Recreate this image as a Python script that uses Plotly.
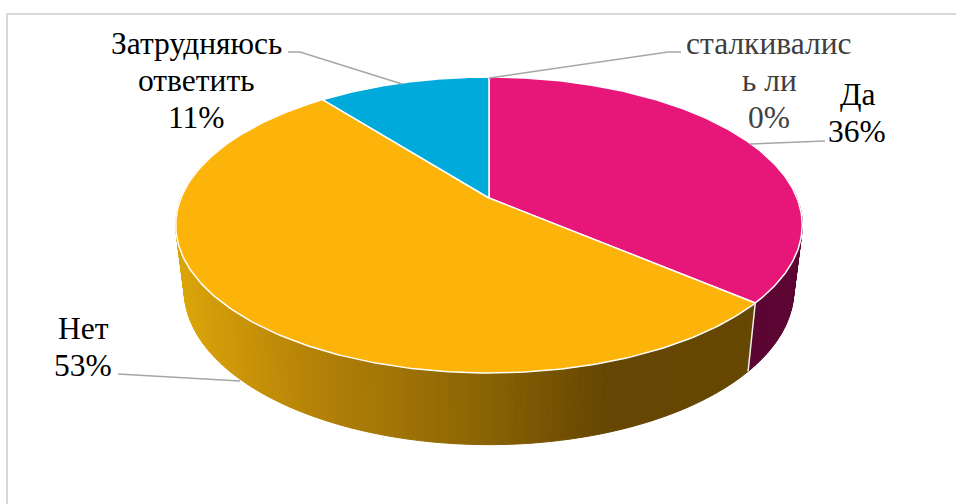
import numpy as np
import plotly.graph_objects as go

# --- data ---
categories = ["Да", "Нет", "Затрудняюсь ответить", "сталкивались ли"]
values = [36.2, 53.2, 10.6, 0]
top_colors = ["#E7177A", "#FDB40A", "#00ABDB", "#7F7F7F"]

# --- projection of the tilted disc onto page pixels ---
CX, CY = 489.0, 198.0
S, A, C = 308.0, 106.95, -0.1824
WALL_SCALE, WALL_K, WALL_MID, WALL_OFF = 0.973, 1.045, 225.0, 290.0
W, H = 956, 504


def rim(theta_deg):
    t = np.radians(theta_deg)
    u, v = np.sin(t), -np.cos(t)
    d = 1 + C * v
    return CX + S * u / d, (A * v + CY) / d


def bottom(theta_deg):
    x, y = rim(theta_deg)
    return CX + WALL_SCALE * (x - CX), WALL_K * (y - WALL_MID) + WALL_OFF


def mix(stops, x):
    xs = [s[0] for s in stops]
    ch = [np.interp(x, xs, [s[1][i] for s in stops]) for i in range(3)]
    return "rgb(%d,%d,%d)" % tuple(ch)


orange_wall = [(178, (219, 165, 10)), (300, (184, 133, 8)), (478, (140, 101, 4)),
               (610, (101, 70, 2)), (750, (101, 72, 2))]
pink_wall = [(750, (90, 5, 50)), (800, (94, 6, 52))]
wall_stops = [pink_wall, orange_wall]

fracs = np.cumsum([0] + values) / sum(values) * 360.0
fig = go.Figure()

# walls: front-facing parts of the first two slices
for idx, stops in enumerate(wall_stops):
    a0 = max(fracs[idx], 85.0)
    a1 = min(fracs[idx + 1], 292.0)
    th = np.append(np.arange(a0, a1, 1.0), a1)
    for p, q in zip(th[:-1], th[1:]):
        x1, y1 = rim(p)
        x2, y2 = rim(q)
        x3, y3 = bottom(q)
        x4, y4 = bottom(p)
        col = mix(stops, (x1 + x2) / 2)
        fig.add_trace(go.Scatter(x=[x1, x2, x3, x4, x1], y=[y1, y2, y3, y4, y1], mode="lines",
                                 fill="toself", fillcolor=col, line=dict(color=col, width=1),
                                 hoverinfo="skip", showlegend=False))

# seam between the pink and orange walls
xs, ys = rim(fracs[1])
xb, yb = bottom(fracs[1])
fig.add_trace(go.Scatter(x=[xs, xb], y=[ys, yb], mode="lines", line=dict(color="#F0F0F0", width=1.5),
                         hoverinfo="skip", showlegend=False))

# top faces
for i, name in enumerate(categories):
    if values[i] == 0:
        continue
    th = np.linspace(fracs[i], fracs[i + 1], 200)
    x, y = rim(th)
    fig.add_trace(go.Scatter(x=np.r_[CX, x, CX], y=np.r_[CY, y, CY], mode="lines", fill="toself",
                             fillcolor=top_colors[i], line=dict(color="white", width=1.5),
                             name=name, hoverinfo="skip", showlegend=False))

# --- labels: one annotation per wrapped line so the line pitch can be kept ---
def pct(i):
    return f"{values[i]:.0f}%"


labels = [
    (["Затрудняюсь", "ответить", pct(2)], 196, 43, "#000000"),
    (["сталкивалис", "ь ли", pct(3)], 769, 43, "#404040"),
    ([categories[0], pct(0)], 857, 94, "#000000"),
    ([categories[1], pct(1)], 83, 328, "#000000"),
]
for lines, lx, ly, col in labels:
    for k, line in enumerate(lines):
        fig.add_annotation(x=lx, y=ly + 37 * k, xref="x", yref="y", text=line, showarrow=False,
                           align="center", xanchor="center", yanchor="middle",
                           font=dict(family="Liberation Serif", size=31.5, color=col))

leaders = ["M288,52 L300,52 L402,84", "M681,52 L668,52 L489,78",
           "M825,141 L750,144", "M118,374 L240,381"]
shapes = [dict(type="path", path=p, xref="x", yref="y", line=dict(color="#A6A6A6", width=1.5))
          for p in leaders]
shapes.append(dict(type="path", path="M7,504 L7,14 L956,14", xref="x", yref="y",
                   line=dict(color="#D9D9D9", width=2)))

fig.update_layout(width=W, height=H, margin=dict(l=0, r=0, t=0, b=0), autosize=False,
                  paper_bgcolor="white", plot_bgcolor="white", hovermode=False,
                  showlegend=False, shapes=shapes,
                  xaxis=dict(range=[0, W], visible=False, fixedrange=True),
                  yaxis=dict(range=[H, 0], visible=False, fixedrange=True))

fig.write_html("out.html", post_script="document.body.style.margin='0';",
               config={"displayModeBar": False})
